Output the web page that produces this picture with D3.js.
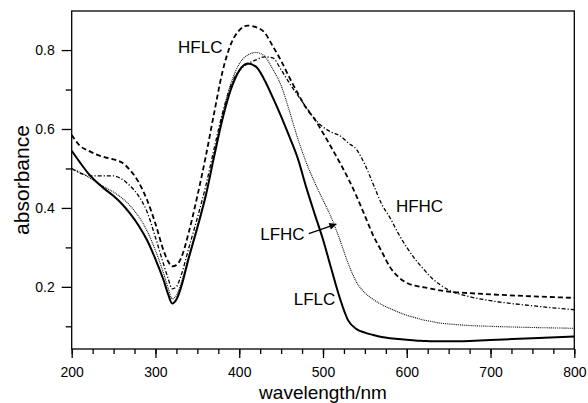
<!DOCTYPE html>
<html>
<head>
<meta charset="utf-8">
<script src="https://cdn.jsdelivr.net/npm/d3@7"></script>
<style>
  body { margin: 0; background: #fff; }
  text { font-family: "Liberation Sans", Arial, Helvetica, sans-serif; fill: #000; }
</style>
</head>
<body>
<script>
// wavelength grid (nm) shared by all four spectra
const wavelengths = [200, 210, 220, 230, 240, 250, 260, 270, 280, 290, 300, 310, 315, 320, 325, 330, 340, 350, 360, 370, 380, 390, 400, 410, 420, 430, 440, 450, 460, 470, 480, 490, 500, 510, 520, 530, 540, 550, 560, 570, 580, 590, 600, 610, 620, 630, 640, 650, 675, 700, 750, 800];

const lflc = [0.545, 0.515, 0.487, 0.465, 0.447, 0.43, 0.41, 0.385, 0.355, 0.318, 0.27, 0.215, 0.182, 0.158, 0.168, 0.195, 0.275, 0.35, 0.43, 0.53, 0.625, 0.7, 0.748, 0.766, 0.758, 0.725, 0.68, 0.632, 0.58, 0.525, 0.452, 0.385, 0.32, 0.245, 0.172, 0.115, 0.093, 0.084, 0.078, 0.073, 0.07, 0.068, 0.066, 0.064, 0.063, 0.062, 0.062, 0.062, 0.063, 0.065, 0.07, 0.074];

const lfhc = [0.5, 0.49, 0.478, 0.465, 0.452, 0.44, 0.425, 0.405, 0.378, 0.342, 0.292, 0.232, 0.198, 0.17, 0.178, 0.205, 0.28, 0.355, 0.435, 0.535, 0.635, 0.715, 0.765, 0.787, 0.794, 0.785, 0.752, 0.71, 0.645, 0.575, 0.515, 0.465, 0.42, 0.375, 0.32, 0.26, 0.212, 0.185, 0.168, 0.155, 0.145, 0.136, 0.128, 0.122, 0.116, 0.112, 0.108, 0.106, 0.102, 0.1, 0.097, 0.095];

const hfhc = [0.5, 0.488, 0.482, 0.481, 0.481, 0.481, 0.473, 0.455, 0.43, 0.39, 0.325, 0.255, 0.222, 0.195, 0.2, 0.225, 0.3, 0.375, 0.455, 0.55, 0.64, 0.71, 0.748, 0.765, 0.775, 0.783, 0.78, 0.75, 0.716, 0.685, 0.655, 0.626, 0.605, 0.592, 0.583, 0.565, 0.548, 0.51, 0.46, 0.41, 0.375, 0.335, 0.3, 0.27, 0.245, 0.222, 0.205, 0.192, 0.175, 0.165, 0.152, 0.142];

const hflc = [0.585, 0.557, 0.545, 0.535, 0.528, 0.523, 0.515, 0.495, 0.465, 0.42, 0.36, 0.29, 0.265, 0.252, 0.255, 0.27, 0.34, 0.43, 0.53, 0.64, 0.745, 0.815, 0.85, 0.862, 0.858, 0.845, 0.81, 0.773, 0.73, 0.69, 0.653, 0.625, 0.59, 0.553, 0.515, 0.475, 0.43, 0.38, 0.33, 0.29, 0.25, 0.225, 0.21, 0.203, 0.199, 0.195, 0.191, 0.188, 0.184, 0.181, 0.176, 0.172];

const xMajorTicks = [200, 300, 400, 500, 600, 700, 800];
const yMajorTicks = [0.2, 0.4, 0.6, 0.8];
const yMinorTicks = [0.1, 0.3, 0.5, 0.7];

// curve labels, anchored in data units (wavelength, absorbance)
const labelNames = ["HFLC", "HFHC", "LFHC", "LFLC"];
const labelWl = [327, 587, 425, 465];
const labelAbs = [0.792, 0.39, 0.319, 0.154];
const arrowFrom = [483, 0.335];
const arrowTo = [516, 0.359];

const width = 588;
const height = 403;
const margin = { top: 11, right: 13.7, bottom: 54, left: 71.7 };

const svg = d3
  .select("body")
  .append("svg")
  .attr("width", width)
  .attr("height", height);

const x = d3
  .scaleLinear()
  .domain([200, 800])
  .range([margin.left, width - margin.right]);

const y = d3
  .scaleLinear()
  .domain([0.0425, 0.899])
  .range([height - margin.bottom, margin.top]);

const series = [
  { values: hflc, width: 1.8, dash: "5,3", color: "#000" },
  { values: hfhc, width: 1.3, dash: "4,2,1.2,2", color: "#000" },
  { values: lfhc, width: 1.1, dash: "1,0.9", color: "#111" },
  { values: lflc, width: 2, dash: null, color: "#000" },
];

const line = d3
  .line()
  .x((d) => x(d[0]))
  .y((d) => y(d[1]))
  .curve(d3.curveMonotoneX);

svg
  .append("g")
  .selectAll("path")
  .data(series)
  .enter()
  .append("path")
  .attr("d", (s) => line(wavelengths.map((w, i) => [w, s.values[i]])))
  .attr("fill", "none")
  .attr("stroke", (s) => s.color)
  .attr("stroke-width", (s) => s.width)
  .attr("stroke-dasharray", (s) => s.dash)
  .attr("stroke-linejoin", "round");

// frame
svg
  .append("rect")
  .attr("x", x(200))
  .attr("y", y(0.899))
  .attr("width", x(800) - x(200))
  .attr("height", y(0.0425) - y(0.899))
  .attr("fill", "none")
  .attr("stroke", "#000")
  .attr("stroke-width", 1.3);

const xAxis = svg
  .append("g")
  .attr("transform", `translate(0,${height - margin.bottom})`);

xAxis
  .append("g")
  .call(d3.axisBottom(x).tickValues(d3.range(200, 801, 25)).tickSize(5).tickFormat(""));

xAxis
  .append("g")
  .call(d3.axisBottom(x).tickValues(xMajorTicks).tickSize(9).tickPadding(9).tickFormat(d3.format("d")));

const yAxis = svg.append("g").attr("transform", `translate(${margin.left},0)`);

yAxis
  .append("g")
  .call(d3.axisLeft(y).tickValues(yMinorTicks).tickSize(6).tickFormat(""));

yAxis
  .append("g")
  .call(d3.axisLeft(y).tickValues(yMajorTicks).tickSize(10).tickPadding(7).tickFormat(d3.format(".1f")));

svg.selectAll(".domain").remove();
svg.selectAll(".tick line").attr("stroke", "#000").attr("stroke-width", 1.3);
svg.selectAll(".tick text").attr("font-size", 14).attr("fill", "#000");

// axis titles
svg
  .append("text")
  .text("wavelength/nm")
  .attr("x", (x(200) + x(800)) / 2)
  .attr("y", 399)
  .attr("text-anchor", "middle")
  .attr("font-size", 19);

svg
  .append("text")
  .text("absorbance")
  .attr("transform", `translate(29,${(y(0.0425) + y(0.899)) / 2}) rotate(-90)`)
  .attr("text-anchor", "middle")
  .attr("font-size", 21);

// curve labels
svg
  .append("g")
  .selectAll("text")
  .data(labelNames)
  .enter()
  .append("text")
  .text((d) => d)
  .attr("x", (d, i) => x(labelWl[i]))
  .attr("y", (d, i) => y(labelAbs[i]))
  .attr("font-size", 17);

svg
  .append("defs")
  .append("marker")
  .attr("id", "head")
  .attr("viewBox", "0 0 10 10")
  .attr("refX", 10)
  .attr("refY", 5)
  .attr("markerWidth", 9)
  .attr("markerHeight", 7)
  .attr("markerUnits", "userSpaceOnUse")
  .attr("orient", "auto")
  .append("path")
  .attr("d", "M0,0 L10,5 L0,10 z")
  .attr("fill", "#000");

svg
  .append("line")
  .attr("x1", x(arrowFrom[0]))
  .attr("y1", y(arrowFrom[1]))
  .attr("x2", x(arrowTo[0]))
  .attr("y2", y(arrowTo[1]))
  .attr("stroke", "#000")
  .attr("stroke-width", 1.2)
  .attr("marker-end", "url(#head)");
</script>
</body>
</html>
